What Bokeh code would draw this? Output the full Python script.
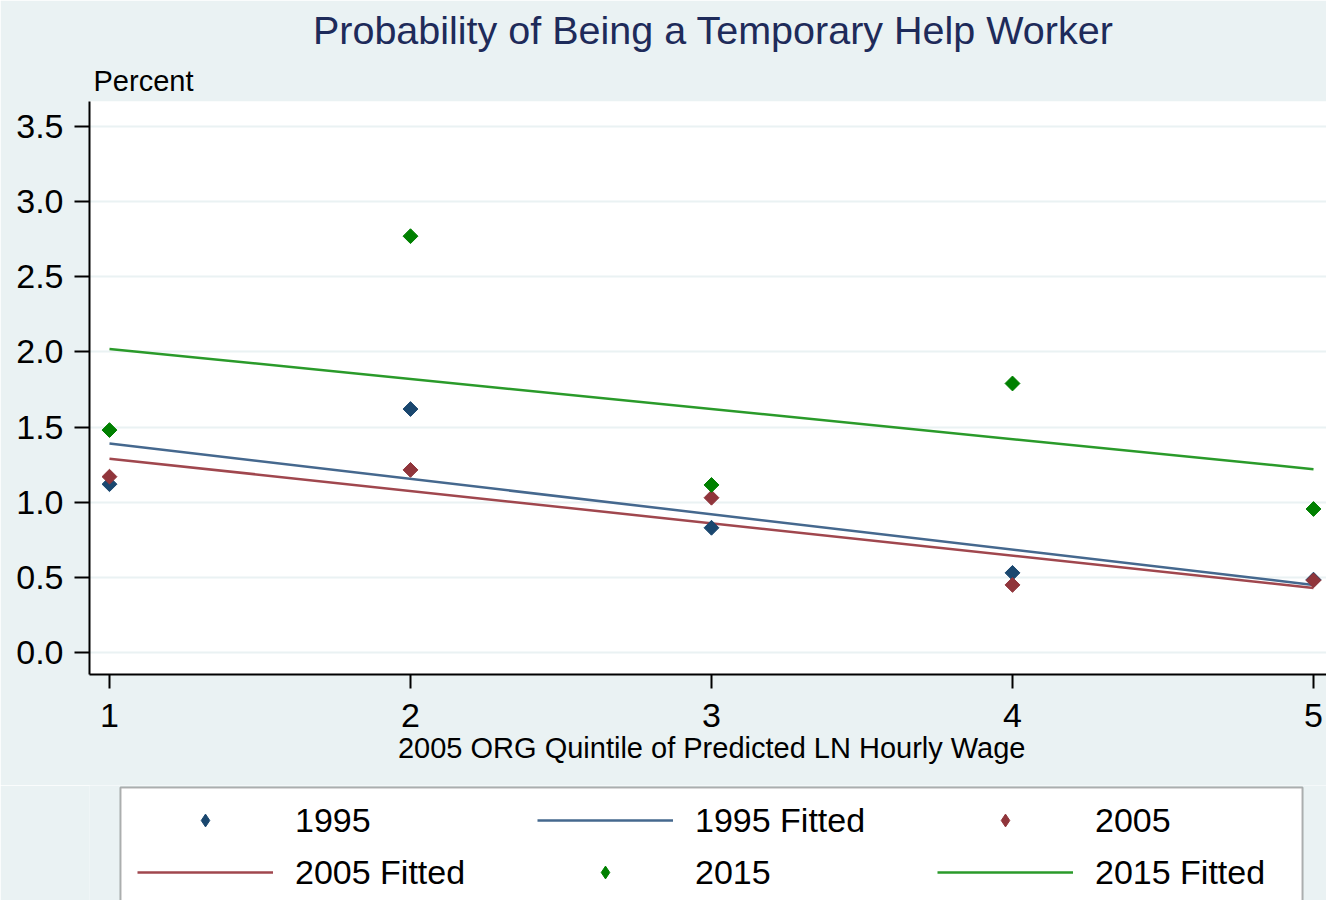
import numpy as np
from bokeh.plotting import figure
from bokeh.layouts import column
from bokeh.models import (Range1d, Title, Legend, LegendItem, FixedTicker,
                          NumeralTickFormatter, BoxAnnotation)
from bokeh.embed import file_html
from bokeh.resources import INLINE

# ---- data ----
quintiles = [1, 2, 3, 4, 5]
y1995 = [1.12, 1.62, 0.83, 0.53, 0.485]
y2005 = [1.17, 1.215, 1.03, 0.45, 0.48]
y2015 = [1.48, 2.77, 1.115, 1.79, 0.955]
fit_x = [1, 5]
fit1995 = [1.39, 0.45]
fit2005 = [1.29, 0.43]
fit2015 = [2.02, 1.22]
y_ticks = [0.0, 0.5, 1.0, 1.5, 2.0, 2.5, 3.0, 3.5]
x_ticks = [1, 2, 3, 4, 5]

title_text = "Probability of Being a Temporary Help Worker"
ylabel_text = "Percent"
xlabel_text = "2005 ORG Quintile of Predicted LN Hourly Wage"
legend_labels = ["1995", "1995 Fitted", "2005", "2005 Fitted", "2015", "2015 Fitted"]

BG = "#EAF2F3"
FONT = "Liberation Sans"
C95, C05, C15 = "#1A476F", "#90353B", "#008000"
F95, F05, F15 = "#45688E", "#A0474E", "#2A9A2A"

W = 1326
H_MAIN = 785
H_LEG = 115
FRAME_L = 89

p = figure(width=W, height=H_MAIN, output_backend="svg", toolbar_location=None, title=None,
           x_range=Range1d(0.9336, 5.0432), y_range=Range1d(-0.1461, 3.666),
           min_border_left=FRAME_L, min_border_right=0, min_border_top=100, min_border_bottom=111)
p.background_fill_color = "white"
p.border_fill_color = BG
p.outline_line_color = None

# grid
p.xgrid.grid_line_color = None
p.ygrid.grid_line_color = BG
p.ygrid.grid_line_width = 2
p.ygrid.ticker = FixedTicker(ticks=y_ticks)

# axes
for ax in (p.xaxis, p.yaxis):
    ax.axis_line_color = "black"
    ax.axis_line_width = 2
    ax.major_tick_line_color = "black"
    ax.major_tick_line_width = 2
    ax.major_tick_in = 0
    ax.minor_tick_line_color = None
    ax.major_label_text_font = FONT
    ax.major_label_text_font_size = "34px"
    ax.major_label_text_color = "black"
p.xaxis.ticker = FixedTicker(ticks=x_ticks)
p.yaxis.ticker = FixedTicker(ticks=y_ticks)
p.yaxis.formatter = NumeralTickFormatter(format="0.0")
p.xaxis.major_tick_out = 14
p.xaxis.major_label_standoff = 15
p.yaxis.major_tick_out = 15
p.yaxis.major_label_standoff = 11

# fitted lines
p.line(fit_x, fit1995, line_color=F95, line_width=2.5)
p.line(fit_x, fit2005, line_color=F05, line_width=2.5)
p.line(fit_x, fit2015, line_color=F15, line_width=2.5)

# markers (diamonds)
ang = np.pi / 4
MS = 10.5
p.scatter(quintiles, y1995, marker="square", angle=ang, size=MS, fill_color=C95, line_color=C95)
p.scatter(quintiles, y2005, marker="square", angle=ang, size=MS, fill_color=C05, line_color=C05)
p.scatter(quintiles, y2015, marker="square", angle=ang, size=MS, fill_color=C15, line_color=C15)

# titles (first added to "above" sits nearest the frame)
p.add_layout(Title(text=ylabel_text, align="left", offset=4, standoff=10,
                   text_font=FONT, text_font_size="29px", text_font_style="normal",
                   text_color="black"), "above")
p.add_layout(Title(text=title_text, align="right", offset=213, standoff=11,
                   text_font=FONT, text_font_size="39.5px", text_font_style="normal",
                   text_color="#1E2B5A"), "above")
p.add_layout(Title(text=xlabel_text, align="right", offset=301, standoff=0,
                   text_font=FONT, text_font_size="29px", text_font_style="normal",
                   text_color="black"), "below")

# ---- legend strip (its data coords equal its pixel coords; y grows downwards) ----
q = figure(width=W, height=H_LEG, output_backend="svg", toolbar_location=None,
           x_range=Range1d(FRAME_L, W), y_range=Range1d(H_LEG, 0),
           x_axis_location=None, y_axis_location=None,
           min_border_left=FRAME_L, min_border_right=0, min_border_top=0, min_border_bottom=0)
q.background_fill_color = BG
q.border_fill_color = BG
q.outline_line_color = None
q.grid.grid_line_color = None

# legend frame box
q.add_layout(BoxAnnotation(left=120, right=1302, top=2, bottom=H_LEG + 20,
                           fill_color="white", fill_alpha=1.0,
                           line_color="black", line_width=2, level="underlay"))

# off-view copies of the series, used only as legend glyphs
r95 = q.scatter(quintiles, y1995, marker="diamond", size=MS, fill_color=C95, line_color=C95)
k95 = q.line(fit_x, fit1995, line_color=F95, line_width=2.5)
r05 = q.scatter(quintiles, y2005, marker="diamond", size=MS, fill_color=C05, line_color=C05)
k05 = q.line(fit_x, fit2005, line_color=F05, line_width=2.5)
r15 = q.scatter(quintiles, y2015, marker="diamond", size=MS, fill_color=C15, line_color=C15)
k15 = q.line(fit_x, fit2015, line_color=F15, line_width=2.5)
rends = [r95, k95, r05, k05, r15, k15]
items = [LegendItem(label=lab, renderers=[r]) for lab, r in zip(legend_labels, rends)]

ROW_H = 40
def make_legend(its, center_y):
    bottom = center_y + ROW_H / 2
    return Legend(items=its, orientation="horizontal",
                  location=(137 - FRAME_L, H_LEG - bottom),
                  glyph_width=136, glyph_height=32, label_standoff=22,
                  label_width=232, label_height=ROW_H, spacing=10,
                  padding=0, margin=0,
                  label_text_font=FONT, label_text_font_size="34px", label_text_color="black",
                  border_line_color=None, background_fill_alpha=0.0)

q.add_layout(make_legend(items[:3], 35), "center")
q.add_layout(make_legend(items[3:], 87), "center")

open("out.html", "w").write(file_html(column(p, q), INLINE))
